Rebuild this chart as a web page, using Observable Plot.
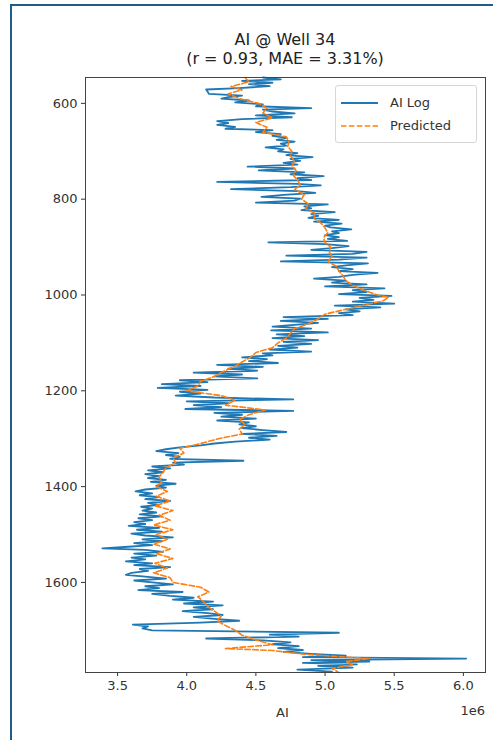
<!DOCTYPE html>
<html>
<head>
<meta charset="utf-8">
<script src="https://cdn.jsdelivr.net/npm/d3@7"></script>
<script src="https://cdn.jsdelivr.net/npm/@observablehq/plot@0.6"></script>
<style>
  html, body { margin: 0; padding: 0; background: #fff; }
  body { width: 493px; height: 740px; position: relative; overflow: hidden; font-family: "DejaVu Sans", sans-serif; }
  #frame { position: absolute; left: 10px; top: 4px; width: 600px; height: 800px; border-left: 2px solid #1d5d88; border-top: 2px solid #1d5d88; }
  #chart { position: absolute; left: 0; top: 0; }
  .title { position: absolute; left: 85px; width: 400px; text-align: center; font-size: 16px; color: #222; white-space: nowrap; }
  .lbl { position: absolute; font-size: 13px; color: #333; white-space: nowrap; }
  #legend { position: absolute; left: 335px; top: 85px; width: 140px; height: 56px; border: 1px solid #d6d6d6; border-radius: 3px; background: rgba(255,255,255,0.85); }
  #legend .row { position: absolute; left: 4px; height: 16px; font-size: 13px; color: #333; }
  #legend svg { position: absolute; left: 0; top: 0; }
  #legend span { position: absolute; left: 50px; top: 0; white-space: nowrap; }
</style>
</head>
<body>
<div id="frame"></div>
<div id="chart"></div>
<div class="title" style="top:30px;">AI @ Well 34</div>
<div class="title" style="top:49px;">(r = 0.93, MAE = 3.31%)</div>
<div class="lbl" style="left:276px; top:705px;">AI</div>
<div class="lbl" style="right:8px; top:703px;">1e6</div>
<div id="legend">
  <div class="row" style="top:9px;"><svg width="44" height="16"><line x1="1" y1="8" x2="38" y2="8" stroke="#1f77b4" stroke-width="1.8"/></svg><span>AI Log</span></div>
  <div class="row" style="top:32px;"><svg width="44" height="16"><line x1="1" y1="8" x2="38" y2="8" stroke="#ff7f0e" stroke-width="1.6" stroke-dasharray="5.5,2.4"/></svg><span>Predicted</span></div>
</div>
<script>
// Measured acoustic impedance log (AI, in units of 1e6) vs depth
const depthLog = [546,550,553,557,560,564,568,571,575,580,584,587,590,594,598,602,606,610,613,617,621,625,629,633,637,641,645,649,653,656,660,664,668,672,676,680,684,688,692,696,700,704,708,712,716,720,724,728,732,736,740,744,748,752,756,760,764,768,771,775,779,783,787,791,795,799,803,807,811,815,819,823,827,831,835,839,843,847,851,855,859,863,867,871,875,879,883,887,890,894,898,902,906,910,914,918,922,926,930,934,938,942,946,950,954,958,962,966,970,974,978,982,986,990,994,998,1002,1006,1010,1014,1018,1022,1026,1030,1034,1038,1042,1046,1050,1054,1058,1062,1066,1070,1074,1078,1082,1086,1090,1094,1098,1102,1106,1110,1114,1118,1122,1126,1130,1134,1138,1142,1146,1150,1154,1158,1162,1166,1170,1174,1178,1182,1186,1190,1194,1198,1202,1206,1210,1214,1218,1222,1226,1230,1234,1238,1242,1246,1250,1254,1258,1262,1266,1270,1274,1278,1282,1286,1290,1294,1298,1302,1306,1310,1314,1318,1322,1326,1330,1334,1338,1342,1346,1350,1354,1358,1362,1366,1370,1374,1378,1382,1386,1390,1394,1398,1402,1406,1410,1414,1418,1422,1426,1430,1434,1438,1442,1446,1450,1454,1458,1462,1466,1470,1474,1478,1482,1486,1490,1494,1498,1502,1506,1510,1514,1518,1522,1526,1529,1532,1536,1540,1544,1548,1552,1556,1560,1564,1568,1572,1576,1580,1584,1588,1592,1596,1600,1604,1608,1612,1616,1620,1624,1628,1632,1636,1640,1644,1648,1652,1656,1660,1664,1668,1672,1676,1680,1684,1688,1692,1696,1700,1705,1709,1713,1717,1721,1725,1729,1733,1737,1741,1745,1749,1753,1756,1759,1762,1765,1768,1771,1774,1778,1782,1786];
const aiLog = [4.55,4.68,4.40,4.62,4.45,4.60,4.38,4.14,4.15,4.16,4.40,4.30,4.25,4.45,4.35,4.55,4.50,4.90,4.55,4.62,4.78,4.50,4.76,4.40,4.22,4.30,4.22,4.35,4.28,4.62,4.50,4.68,4.62,4.72,4.65,4.78,4.68,4.72,4.57,4.70,4.66,4.80,4.72,4.91,4.75,4.82,4.70,4.80,4.44,4.78,4.52,4.85,4.75,4.99,4.80,4.90,4.22,4.80,4.97,4.75,4.32,4.80,4.93,4.70,4.54,4.82,4.78,4.50,5.02,4.85,4.90,4.83,5.07,4.90,4.95,4.88,5.10,4.92,5.12,5.00,5.04,5.19,5.05,5.10,5.00,5.10,5.02,5.16,4.59,5.00,5.17,5.05,4.90,5.30,5.20,4.72,5.30,5.10,4.68,5.31,5.15,5.05,5.20,5.10,5.38,5.20,5.10,4.92,5.15,5.05,5.30,5.00,5.43,5.20,5.30,5.10,5.48,5.25,5.35,5.20,5.50,5.07,5.40,5.15,5.25,5.10,5.20,4.70,5.02,4.68,4.95,4.80,4.62,4.90,4.61,5.02,4.65,4.85,4.62,4.95,4.70,4.90,4.66,4.80,4.60,4.90,4.55,4.62,4.40,4.58,4.45,4.66,4.22,4.55,4.30,4.51,4.05,4.40,4.20,4.51,3.95,4.15,3.82,4.10,3.79,4.15,3.95,4.10,3.92,4.20,4.77,4.00,4.30,4.05,4.25,3.99,4.77,4.20,4.40,4.25,4.50,4.22,4.45,4.38,4.50,4.40,4.55,4.72,4.40,4.65,4.45,4.60,4.35,4.20,4.10,3.95,3.85,3.78,3.94,3.85,3.95,3.88,4.41,3.90,3.98,3.75,3.88,3.72,3.83,3.70,3.80,3.72,3.85,3.74,3.92,3.78,3.85,3.70,3.63,3.75,3.66,3.80,3.70,3.88,3.72,3.80,3.67,3.75,3.68,3.78,3.66,3.82,3.65,3.75,3.62,3.70,3.58,3.80,3.64,3.82,3.60,3.70,3.90,3.68,3.82,3.62,3.75,3.55,3.39,3.70,3.83,3.62,3.78,3.60,3.70,3.56,3.75,3.62,3.88,3.66,3.72,3.60,3.56,3.70,3.85,3.62,3.75,3.90,3.70,3.80,3.65,3.97,3.75,3.88,4.05,3.90,4.19,3.98,4.26,4.05,4.19,3.97,4.15,4.26,4.05,4.20,4.38,4.10,3.61,3.72,3.68,3.75,5.10,4.60,4.81,4.14,4.55,4.75,4.62,4.81,4.66,4.84,4.70,4.90,5.15,4.84,6.02,4.90,5.32,4.84,5.23,4.95,5.20,4.80,5.05];

// Predicted AI (units of 1e6) vs depth
const depthPred = [546,555,565,572,580,590,600,610,620,630,640,650,660,670,680,690,700,710,720,730,740,750,760,770,780,790,800,810,820,830,840,850,860,870,880,890,900,910,920,930,940,950,960,970,980,990,1000,1005,1012,1020,1030,1040,1050,1060,1070,1080,1090,1100,1110,1120,1130,1140,1150,1160,1170,1180,1190,1200,1210,1220,1230,1240,1250,1260,1270,1280,1290,1300,1310,1320,1330,1340,1350,1360,1370,1380,1390,1400,1410,1420,1430,1440,1450,1460,1470,1480,1490,1500,1510,1520,1530,1540,1550,1560,1570,1580,1590,1600,1610,1620,1630,1640,1650,1660,1670,1680,1690,1700,1710,1720,1730,1738,1742,1750,1759,1765,1772,1780,1788];
const aiPred = [4.42,4.45,4.32,4.40,4.30,4.38,4.52,4.58,4.55,4.62,4.50,4.58,4.55,4.72,4.74,4.73,4.76,4.75,4.78,4.76,4.79,4.77,4.80,4.82,4.78,4.85,4.83,4.88,4.86,4.93,4.92,4.97,5.00,5.02,4.99,5.00,5.04,5.03,5.05,5.02,5.08,5.10,5.13,5.15,5.20,5.28,5.38,5.46,5.42,5.30,5.15,5.00,4.95,4.88,4.78,4.75,4.72,4.66,4.62,4.50,4.46,4.40,4.34,4.26,4.20,4.10,4.08,4.00,4.25,4.35,4.28,4.57,4.45,4.38,4.42,4.38,4.40,4.23,4.10,3.95,3.98,3.90,3.92,3.85,3.83,3.80,3.82,3.78,3.86,3.78,3.88,3.77,3.90,3.80,3.88,3.76,3.90,3.78,3.86,3.76,3.88,3.78,3.90,3.77,3.86,3.76,3.88,3.90,4.10,4.16,4.08,4.12,4.15,4.20,4.25,4.22,4.28,4.35,4.40,4.50,4.62,4.28,4.62,4.85,5.32,5.15,5.20,5.05,5.10];

// Axis ticks
const xTicks = [3.5, 4.0, 4.5, 5.0, 5.5, 6.0];
const yTicks = [600, 800, 1000, 1200, 1400, 1600];

const logIdx = d3.range(depthLog.length);
const predIdx = d3.range(depthPred.length);

const chart = Plot.plot({
  width: 493,
  height: 740,
  marginLeft: 85,
  marginRight: 8,
  marginTop: 77,
  marginBottom: 68,
  style: { fontFamily: "DejaVu Sans, sans-serif", fontSize: "13px", color: "#333", background: "transparent" },
  x: { domain: [3.268, 6.16], ticks: xTicks, tickFormat: d3.format(".1f"), label: null, tickSize: 4, tickPadding: 4 },
  y: { domain: [546, 1788], reverse: true, ticks: yTicks, tickFormat: d3.format("d"), label: null, tickSize: 4, tickPadding: 4 },
  marks: [
    Plot.line(logIdx, { x: i => aiLog[i], y: i => depthLog[i], stroke: "#1f77b4", strokeWidth: 1.8 }),
    Plot.line(predIdx, { x: i => aiPred[i], y: i => depthPred[i], stroke: "#ff7f0e", strokeWidth: 1.6, strokeDasharray: "5.5,2.4" }),
    Plot.frame({ stroke: "#444", strokeWidth: 1 })
  ]
});
document.getElementById("chart").appendChild(chart);
</script>
</body>
</html>
